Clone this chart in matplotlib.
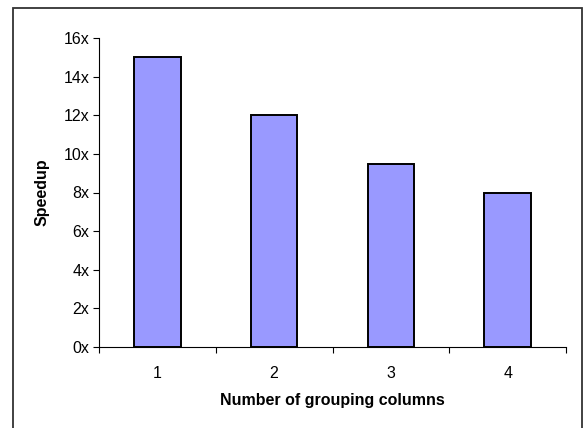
import matplotlib.pyplot as plt
from matplotlib.patches import Rectangle

columns = [1, 2, 3, 4]
speedup = [15, 12, 9.45, 8]
ytick_vals = [0, 2, 4, 6, 8, 10, 12, 14, 16]
ytick_labels = ["%dx" % v for v in ytick_vals]

plt.rcParams['font.family'] = ['Liberation Sans', 'DejaVu Sans']

W, H = 586, 428
fig = plt.figure(figsize=(W / 100, H / 100), dpi=100)
ax = fig.add_axes([99 / W, (H - 347) / H, (566 - 99) / W, (347 - 38) / H])

ax.bar(columns, speedup, width=0.4, color='#9999FF', edgecolor='black', linewidth=1.4)

ax.set_xlim(0.5, 4.5)
ax.set_ylim(0, 16)
ax.set_yticks(ytick_vals)
ax.set_yticklabels(ytick_labels, fontsize=11.5)
ax.set_xticks([0.5, 1.5, 2.5, 3.5, 4.5])
ax.set_xticklabels([])
ax.set_xticks(columns, minor=True)
ax.set_xticklabels([str(c) for c in columns], minor=True, fontsize=11.5)
ax.tick_params(axis='x', which='minor', length=0, pad=14)
ax.tick_params(axis='x', which='major', length=4, width=0.8, direction='out')
ax.tick_params(axis='y', length=4, width=0.8, direction='out', pad=3)

for s in ['top', 'right']:
    ax.spines[s].set_visible(False)
for s in ['left', 'bottom']:
    ax.spines[s].set_linewidth(0.8)

ax.set_xlabel('Number of grouping columns', fontsize=11.5, fontweight='bold', labelpad=8)
ax.set_ylabel('Speedup', fontsize=11.5, fontweight='bold', labelpad=10)

# outer chart border
fig.patches.append(Rectangle((13 / W, -0.05), (582 - 13) / W, (H - 8) / H + 0.05,
                             transform=fig.transFigure, fill=False,
                             edgecolor='#333333', linewidth=1.3))

fig.savefig('out.png', dpi=100)
